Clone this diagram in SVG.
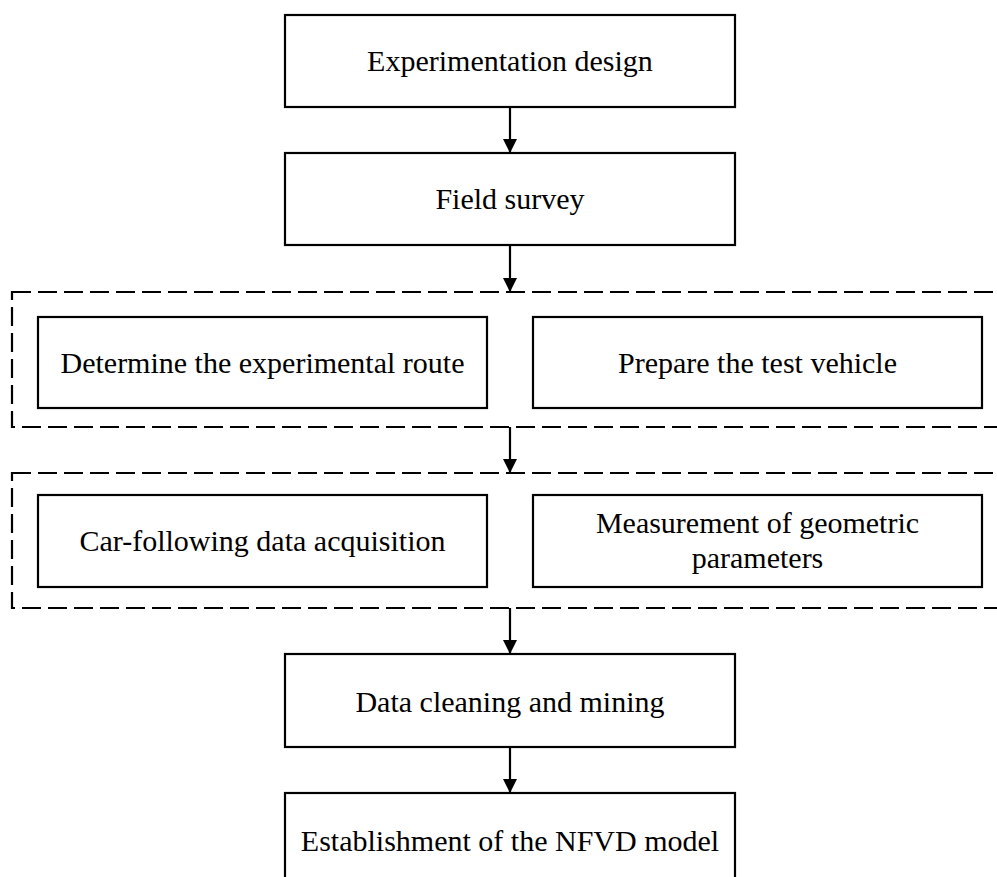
<svg xmlns="http://www.w3.org/2000/svg" width="997" height="877" viewBox="0 0 997 877">
<defs>
<style>
.box{fill:#fff;stroke:#000;stroke-width:2.2}
.dash{fill:none;stroke:#000;stroke-width:2.2;stroke-dasharray:19 7}
.lbl{font-family:"Liberation Serif","Times New Roman",serif;font-size:30px;fill:#000;text-anchor:middle}
.conn{stroke:#000;stroke-width:2.2;fill:none}
</style>
<marker id="ah" viewBox="0 0 14 15" refX="14" refY="7" markerWidth="14" markerHeight="15" markerUnits="userSpaceOnUse" orient="auto">
<path d="M0,0 L14,7 L0,14 Z" fill="#000"/>
</marker>
</defs>
<rect width="997" height="877" fill="#fff"/>
<g id="group1"><rect class="dash" x="12" y="292" width="1000" height="135"/></g>
<g id="group2"><rect class="dash" x="12" y="473" width="1000" height="135"/></g>
<g id="n1"><rect class="box" x="285" y="15" width="450" height="92"/><text class="lbl" x="510" y="71">Experimentation design</text></g>
<g id="n2"><rect class="box" x="285" y="153" width="450" height="92"/><text class="lbl" x="510" y="209">Field survey</text></g>
<g id="n3"><rect class="box" x="38" y="317" width="449" height="91"/><text class="lbl" x="262.5" y="373">Determine the experimental route</text></g>
<g id="n4"><rect class="box" x="533" y="317" width="449" height="91"/><text class="lbl" x="757.5" y="373">Prepare the test vehicle</text></g>
<g id="n5"><rect class="box" x="38" y="495" width="449" height="92"/><text class="lbl" x="262.5" y="551">Car-following data acquisition</text></g>
<g id="n6"><rect class="box" x="533" y="495" width="449" height="92"/><text class="lbl" x="757.5" y="533">Measurement of geometric</text><text class="lbl" x="757.5" y="568">parameters</text></g>
<g id="n7"><rect class="box" x="285" y="654" width="450" height="93"/><text class="lbl" x="510" y="712">Data cleaning and mining</text></g>
<g id="n8"><rect class="box" x="285" y="793" width="450" height="100"/><text class="lbl" x="510" y="851">Establishment of the NFVD model</text></g>
<g id="connectors">
<line class="conn" x1="510" y1="107" x2="510" y2="153" marker-end="url(#ah)"/>
<line class="conn" x1="510" y1="245" x2="510" y2="292" marker-end="url(#ah)"/>
<line class="conn" x1="510" y1="427" x2="510" y2="473" marker-end="url(#ah)"/>
<line class="conn" x1="510" y1="608" x2="510" y2="654" marker-end="url(#ah)"/>
<line class="conn" x1="510" y1="747" x2="510" y2="793" marker-end="url(#ah)"/>
</g>
</svg>
